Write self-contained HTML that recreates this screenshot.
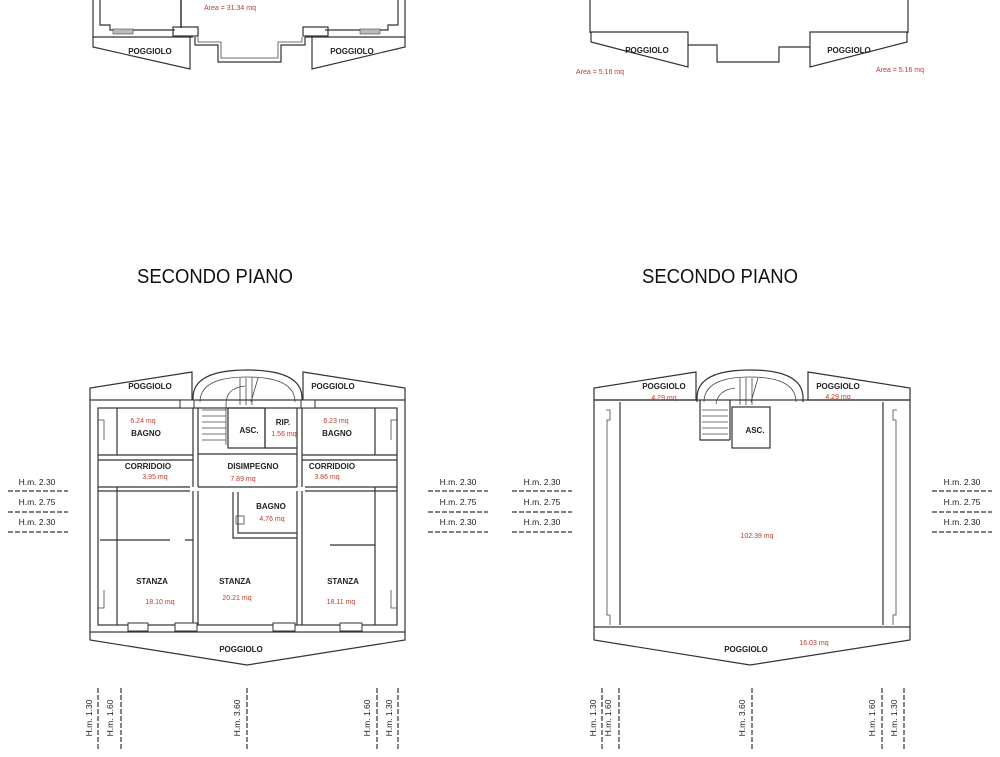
<!DOCTYPE html>
<html><head><meta charset="utf-8"><style>
html,body{margin:0;padding:0;background:#fff;}
svg{display:block;}
.w{fill:none;stroke:#333;stroke-width:1.2}
.t{fill:none;stroke:#444;stroke-width:0.8}
.lb{font-family:"Liberation Sans",sans-serif;font-size:8px;font-weight:bold;fill:#222;text-anchor:middle}
.rd{font-family:"Liberation Sans",sans-serif;font-size:7px;fill:#c0392b;text-anchor:middle}
.hm{font-family:"Liberation Sans",sans-serif;font-size:8.5px;fill:#222;text-anchor:middle}
.ti{font-family:"Liberation Sans",sans-serif;font-size:20px;fill:#111;text-anchor:middle}
.d{stroke:#333;stroke-width:1.2;stroke-dasharray:5,2}
</style></head><body>
<svg width="1000" height="757" viewBox="0 0 1000 757" xmlns="http://www.w3.org/2000/svg">
<rect width="1000" height="757" fill="#fff"/>
<!-- TOP LEFT partial -->
<g>
<path class="w" d="M93,0 V37 H193 M93,0 V10 M405,0 V37 H305"/>
<path class="w" d="M100,0 V25 H110 V30 H175 M398,0 V25 H388 V30 H325"/>
<rect x="113" y="29" width="20" height="5" fill="#bbb" stroke="#444" stroke-width="0.6"/>
<rect x="360" y="29" width="20" height="5" fill="#bbb" stroke="#444" stroke-width="0.6"/>
<rect x="173" y="27" width="25" height="9" class="w"/>
<rect x="303" y="27" width="25" height="9" class="w"/>
<path class="w" d="M93,37 V47 L190,69 V37"/>
<path class="w" d="M405,37 V47 L312,69 V37"/>
<path class="w" d="M195,37 V45 H218 V62 H281 V45 H305 V37"/>
<path class="t" d="M198,37 V42 H221 V58 H278 V42 H302 V37"/>
<line x1="181" y1="0" x2="181" y2="28" stroke="#333" stroke-width="1.5"/>
<text class="rd" x="230" y="10">Area = 31.34 mq</text>
<text class="lb" x="150" y="54">POGGIOLO</text>
<text class="lb" x="352" y="54">POGGIOLO</text>
</g>
<!-- TOP RIGHT partial -->
<g>
<path class="w" d="M590,0 V33 M908,0 V33"/>
<path class="w" d="M591,32 H688 V67 L591,42 Z"/>
<path class="w" d="M907,32 H810 V67 L907,42 Z"/>
<path class="w" d="M688,45 H717 V62 H779 V47 H810"/>
<text class="lb" x="647" y="53">POGGIOLO</text>
<text class="lb" x="849" y="53">POGGIOLO</text>
<text class="rd" x="600" y="74">Area = 5.16 mq</text>
<text class="rd" x="900" y="72">Area = 5.16 mq</text>
</g>
<text class="ti" x="215" y="283" textLength="156" lengthAdjust="spacingAndGlyphs">SECONDO PIANO</text>
<text class="ti" x="720" y="283" textLength="156" lengthAdjust="spacingAndGlyphs">SECONDO PIANO</text>

<!-- LEFT PLAN -->
<g>
<path class="w" d="M90,400 V388 L192,372 V400"/>
<path class="w" d="M405,400 V388 L303,372 V400"/>
<path class="w" d="M193,402 V398 Q193,370 247,370 Q302,370 302,398 V402"/>
<path class="t" d="M200,402 Q200,377 247,377 Q295,377 295,402"/>
<rect class="w" x="90" y="400" width="315" height="232"/>
<rect class="w" x="98" y="408" width="299" height="217"/>
<path class="t" d="M98,420 H104 V440 M98,608 H104 V590 M397,420 H391 V440 M397,608 H391 V590"/>
<!-- interior walls -->
<line class="w" x1="117" y1="408" x2="117" y2="455"/>
<line class="w" x1="117" y1="487" x2="117" y2="625"/>
<line class="w" x1="375" y1="408" x2="375" y2="455"/>
<line class="w" x1="375" y1="487" x2="375" y2="625"/>
<path class="w" d="M98,455 H193 M98,460 H193 M98,487 H190 M98,491 H190"/>
<path class="w" d="M302,455 H397 M302,460 H397 M305,487 H397 M305,491 H397"/>
<path class="w" d="M193,408 V487 M198,408 V487 M302,408 V487 M297,408 V487"/>
<path class="w" d="M193,491 V625 M198,491 V625 M297,491 V625 M302,491 V625"/>
<path class="w" d="M198,454 H297 M198,487 H297"/>
<rect class="w" x="228" y="408" width="37" height="40"/>
<path class="w" d="M265,408 V448 H297"/>
<path class="w" d="M233,492 V538 H297 M238,492 V533 H297"/>
<rect class="t" x="236" y="516" width="8" height="8"/>
<path class="w" d="M100,540 H170 M185,540 H193 M330,545 H375"/>
<!-- stairs -->
<g class="t">
<line x1="202" y1="410" x2="226" y2="410"/><line x1="202" y1="416" x2="226" y2="416"/>
<line x1="202" y1="422" x2="226" y2="422"/><line x1="202" y1="428" x2="226" y2="428"/>
<line x1="202" y1="434" x2="226" y2="434"/><line x1="202" y1="440" x2="226" y2="440"/>
<line x1="226" y1="404" x2="226" y2="445"/>
<path d="M226,404 Q226,388 245,386"/>
<line x1="240" y1="378" x2="240" y2="405"/><line x1="246" y1="378" x2="246" y2="405"/>
<line x1="252" y1="378" x2="252" y2="405"/><line x1="258" y1="378" x2="251" y2="402"/>
</g>
<!-- windows -->
<g fill="#fff" stroke="#333" stroke-width="1">
<rect x="175" y="623" width="22" height="8"/><rect x="273" y="623" width="22" height="8"/>
<rect x="340" y="623" width="22" height="8"/><rect x="128" y="623" width="20" height="8"/>
<rect x="180" y="400" width="14" height="8"/><rect x="301" y="400" width="14" height="8"/>
</g>
<path class="w" d="M90,632 V640 L247,665 L405,640 V632"/>
<text class="lb" x="150" y="389">POGGIOLO</text>
<text class="lb" x="333" y="389">POGGIOLO</text>
<text class="rd" x="143" y="423">6.24 mq</text>
<text class="lb" x="146" y="436">BAGNO</text>
<text class="lb" x="249" y="433">ASC.</text>
<text class="lb" x="283" y="425">RIP.</text>
<text class="rd" x="284" y="436">1.56 mq</text>
<text class="rd" x="336" y="423">6.23 mq</text>
<text class="lb" x="337" y="436">BAGNO</text>
<text class="lb" x="148" y="469">CORRIDOIO</text>
<text class="rd" x="155" y="479">3.95 mq</text>
<text class="lb" x="253" y="469">DISIMPEGNO</text>
<text class="rd" x="243" y="481">7.89 mq</text>
<text class="lb" x="332" y="469">CORRIDOIO</text>
<text class="rd" x="327" y="479">3.86 mq</text>
<text class="lb" x="271" y="509">BAGNO</text>
<text class="rd" x="272" y="521">4.76 mq</text>
<text class="lb" x="152" y="584">STANZA</text>
<text class="rd" x="160" y="604">18.10 mq</text>
<text class="lb" x="235" y="584">STANZA</text>
<text class="rd" x="237" y="600">20.21 mq</text>
<text class="lb" x="343" y="584">STANZA</text>
<text class="rd" x="341" y="604">18.11 mq</text>
<text class="lb" x="241" y="652">POGGIOLO</text>
</g>

<!-- RIGHT PLAN -->
<g>
<path class="w" d="M594,400 V388 L696,372 V400 Z"/>
<path class="w" d="M910,400 V388 L808,372 V400 Z"/>
<path class="w" d="M697,402 V398 Q697,370 750,370 Q803,370 803,398 V402"/>
<path class="t" d="M704,402 Q704,377 750,377 Q796,377 796,402"/>
<rect class="w" x="594" y="400" width="316" height="227"/>
<line class="w" x1="620" y1="402" x2="620" y2="625"/>
<line class="w" x1="883" y1="402" x2="883" y2="625"/>
<path class="t" d="M606,410 H610 V420 H607 V615 H610 V625 M897,410 H893 V420 H896 V615 H893 V625"/>
<path class="w" d="M700,400 V440 H730 M730,400 V440"/>
<rect class="w" x="732" y="407" width="38" height="41"/>
<g class="t">
<line x1="702" y1="410" x2="728" y2="410"/><line x1="702" y1="416" x2="728" y2="416"/>
<line x1="702" y1="422" x2="728" y2="422"/><line x1="702" y1="428" x2="728" y2="428"/>
<line x1="702" y1="434" x2="728" y2="434"/>
<path d="M716,404 Q718,390 735,388"/>
<line x1="740" y1="378" x2="740" y2="405"/><line x1="746" y1="378" x2="746" y2="405"/>
<line x1="752" y1="378" x2="752" y2="405"/><line x1="758" y1="378" x2="751" y2="402"/>
</g>
<path class="w" d="M594,627 V640 L750,665 L910,640 V627"/>
<text class="lb" x="664" y="389">POGGIOLO</text>
<text class="rd" x="664" y="400">4.29 mq</text>
<text class="lb" x="838" y="389">POGGIOLO</text>
<text class="rd" x="838" y="399">4.29 mq</text>
<text class="lb" x="755" y="433">ASC.</text>
<text class="rd" x="757" y="538">102.39 mq</text>
<text class="lb" x="746" y="652">POGGIOLO</text>
<text class="rd" x="814" y="645">16.03 mq</text>
</g>

<!-- height labels horizontal -->
<g>
<text class="hm" x="37" y="485">H.m. 2.30</text><line class="d" x1="8" y1="491" x2="68" y2="491"/>
<text class="hm" x="37" y="505">H.m. 2.75</text><line class="d" x1="8" y1="512" x2="68" y2="512"/>
<text class="hm" x="37" y="525">H.m. 2.30</text><line class="d" x1="8" y1="532" x2="68" y2="532"/>
<text class="hm" x="458" y="485">H.m. 2.30</text><line class="d" x1="428" y1="491" x2="488" y2="491"/>
<text class="hm" x="458" y="505">H.m. 2.75</text><line class="d" x1="428" y1="512" x2="488" y2="512"/>
<text class="hm" x="458" y="525">H.m. 2.30</text><line class="d" x1="428" y1="532" x2="488" y2="532"/>
<text class="hm" x="542" y="485">H.m. 2.30</text><line class="d" x1="512" y1="491" x2="572" y2="491"/>
<text class="hm" x="542" y="505">H.m. 2.75</text><line class="d" x1="512" y1="512" x2="572" y2="512"/>
<text class="hm" x="542" y="525">H.m. 2.30</text><line class="d" x1="512" y1="532" x2="572" y2="532"/>
<text class="hm" x="962" y="485">H.m. 2.30</text><line class="d" x1="932" y1="491" x2="992" y2="491"/>
<text class="hm" x="962" y="505">H.m. 2.75</text><line class="d" x1="932" y1="512" x2="992" y2="512"/>
<text class="hm" x="962" y="525">H.m. 2.30</text><line class="d" x1="932" y1="532" x2="992" y2="532"/>
</g>
<!-- vertical height labels -->
<g>
<g transform="translate(92,718) rotate(-90)"><text class="hm" x="0" y="0">H.m. 1.30</text></g><line class="d" x1="98" y1="688" x2="98" y2="750"/>
<g transform="translate(113,718) rotate(-90)"><text class="hm" x="0" y="0">H.m. 1.60</text></g><line class="d" x1="121" y1="688" x2="121" y2="750"/>
<g transform="translate(240,718) rotate(-90)"><text class="hm" x="0" y="0">H.m. 3.60</text></g><line class="d" x1="247" y1="688" x2="247" y2="750"/>
<g transform="translate(370,718) rotate(-90)"><text class="hm" x="0" y="0">H.m. 1.60</text></g><line class="d" x1="377" y1="688" x2="377" y2="750"/>
<g transform="translate(392,718) rotate(-90)"><text class="hm" x="0" y="0">H.m. 1.30</text></g><line class="d" x1="398" y1="688" x2="398" y2="750"/>
<g transform="translate(596,718) rotate(-90)"><text class="hm" x="0" y="0">H.m. 1.30</text></g><line class="d" x1="602" y1="688" x2="602" y2="750"/>
<g transform="translate(611,718) rotate(-90)"><text class="hm" x="0" y="0">H.m. 1.60</text></g><line class="d" x1="619" y1="688" x2="619" y2="750"/>
<g transform="translate(745,718) rotate(-90)"><text class="hm" x="0" y="0">H.m. 3.60</text></g><line class="d" x1="752" y1="688" x2="752" y2="750"/>
<g transform="translate(875,718) rotate(-90)"><text class="hm" x="0" y="0">H.m. 1.60</text></g><line class="d" x1="882" y1="688" x2="882" y2="750"/>
<g transform="translate(897,718) rotate(-90)"><text class="hm" x="0" y="0">H.m. 1.30</text></g><line class="d" x1="904" y1="688" x2="904" y2="750"/>
</g>
</svg>
</body></html>
